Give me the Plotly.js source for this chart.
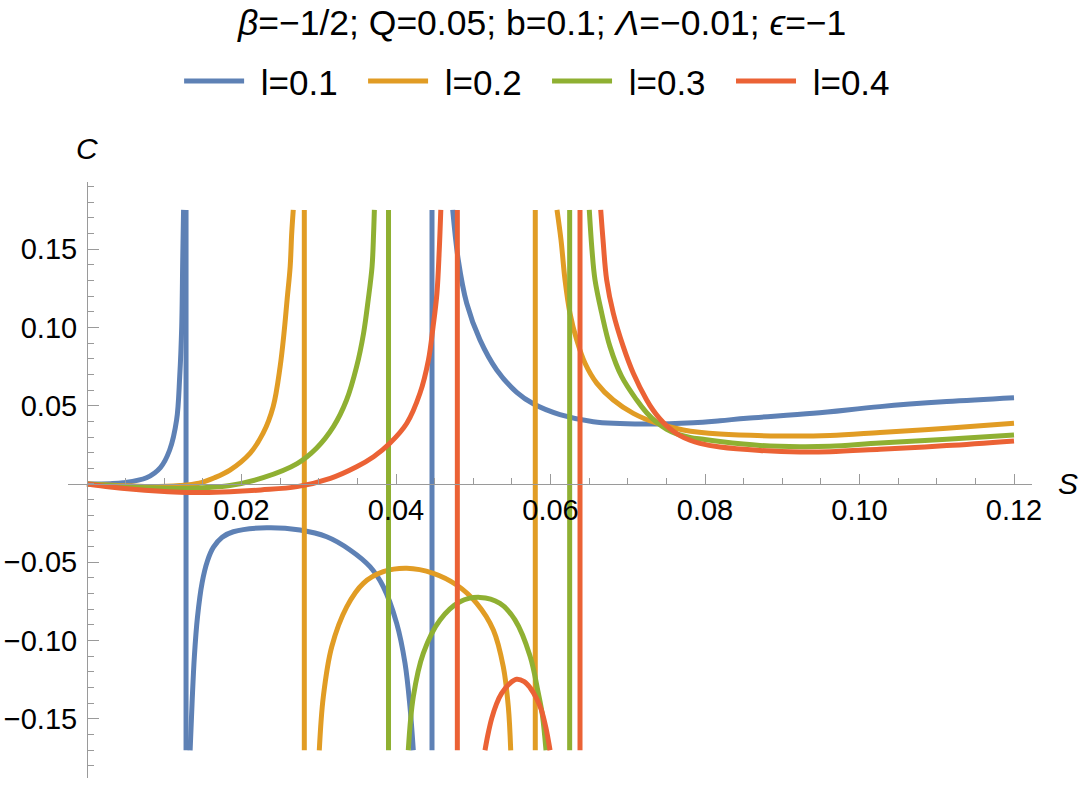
<!DOCTYPE html>
<html>
<head>
<meta charset="utf-8">
<script src="https://cdn.plot.ly/plotly-3.0.1.min.js"></script>
<style>
  html, body { margin: 0; padding: 0; background: #fff; }
  #chart { width: 1080px; height: 789px; }
</style>
</head>
<body>
<div id="chart"></div>
<script>
// values; null breaks the line at the poles
const s1 = [0, 0.003, 0.0047, 0.0077, 0.0095, 0.0107, 0.0116, 0.0120, 0.01226, 0.01239, 0.0125, null,
  0.01282, 0.01282, null,
  0.01335, 0.0136, 0.0139, 0.0143, 0.0149, 0.0156, 0.01635, 0.0175, 0.01894, 0.02326, 0.02757, 0.03103, 0.03405, 0.03663, 0.03836, 0.04009, 0.04117, 0.04181, 0.04224, null,
  0.04466, 0.04466, null,
  0.04734, 0.04806, 0.04915, 0.05087, 0.05304, 0.05563, 0.05777, 0.06123, 0.06554, 0.07201, 0.07848, 0.08194, 0.0854, 0.09402, 0.10265, 0.11129, 0.12];
const c1 = [0, 0.0002, 0.0008, 0.0040, 0.0105, 0.0217, 0.0409, 0.0685, 0.1004, 0.1430, 0.175, null,
  0.175, -0.170, null,
  -0.170, -0.140, -0.110, -0.085, -0.063, -0.049, -0.0405, -0.0340, -0.0305, -0.0279, -0.0294, -0.0337, -0.0421, -0.0528, -0.0656, -0.0890, -0.1145, -0.1422, -0.170, null,
  0.175, -0.170, null,
  0.175, 0.143, 0.1154, 0.0920, 0.0728, 0.0585, 0.0512, 0.0443, 0.0398, 0.0383, 0.0391, 0.0404, 0.0420, 0.0451, 0.0494, 0.0526, 0.0551];

const s2 = [0, 0.004, 0.008, 0.012, 0.0145, 0.0165, 0.0185, 0.0211, 0.0228, 0.0241, 0.0250, 0.0255, 0.0259, 0.0263, 0.0265, 0.0267, null,
  0.02813, 0.02813, null,
  0.03007, 0.03059, 0.03168, 0.03362, 0.03577, 0.03836, 0.04139, 0.04483, 0.04786, 0.05045, 0.0526, 0.05389, 0.05454, 0.05485, null,
  0.05803, 0.05803, null,
  0.06084, 0.06136, 0.06188, 0.06252, 0.06339, 0.06447, 0.06598, 0.06813, 0.07072, 0.07375, 0.07719, 0.08194, 0.08971, 0.09618, 0.10265, 0.11129, 0.12];
const c2 = [0, -0.0009, -0.0016, -0.0010, 0.0005, 0.0040, 0.0089, 0.0196, 0.0324, 0.0494, 0.0749, 0.0962, 0.1175, 0.1388, 0.1601, 0.175, null,
  0.175, -0.170, null,
  -0.170, -0.1358, -0.1039, -0.0784, -0.0634, -0.0560, -0.0538, -0.0570, -0.0645, -0.0762, -0.0932, -0.1167, -0.1422, -0.170, null,
  0.175, -0.170, null,
  0.175, 0.1558, 0.1303, 0.109, 0.0920, 0.0771, 0.0644, 0.0536, 0.0451, 0.0388, 0.0345, 0.0319, 0.0307, 0.0310, 0.0329, 0.0356, 0.0388];

const s3 = [0, 0.004, 0.008, 0.012, 0.0155, 0.0185, 0.0228, 0.0272, 0.0297, 0.0319, 0.0336, 0.0349, 0.0358, 0.0364, 0.0369, 0.0371, 0.0372, null,
  0.03903, 0.03903, null,
  0.04159, 0.04224, 0.04353, 0.0457, 0.04828, 0.05087, 0.05346, 0.0554, 0.05735, 0.05842, 0.05895, 0.05942, null,
  0.06248, 0.06248, null,
  0.06502, 0.06537, 0.06576, 0.06663, 0.0677, 0.06922, 0.07116, 0.07245, 0.07375, 0.07504, 0.07634, 0.07806, 0.07978, 0.08194, 0.08712, 0.0923, 0.09618, 0.10265, 0.11129, 0.12];
const c3 = [0, -0.0013, -0.0024, -0.0028, -0.0022, -0.0010, 0.0040, 0.0130, 0.0228, 0.0366, 0.0536, 0.0749, 0.0962, 0.1175, 0.1388, 0.1601, 0.175, null,
  0.175, -0.170, null,
  -0.170, -0.1358, -0.1081, -0.0868, -0.0752, -0.0724, -0.0762, -0.0868, -0.1098, -0.1335, -0.1475, -0.170, null,
  0.175, -0.170, null,
  0.175, 0.1494, 0.1303, 0.109, 0.0877, 0.0685, 0.0536, 0.0455, 0.0393, 0.0349, 0.0320, 0.0297, 0.0285, 0.0271, 0.0246, 0.0238, 0.0241, 0.0262, 0.0285, 0.0313];

const s4 = [0, 0.003, 0.006, 0.009, 0.012, 0.015, 0.0185, 0.0225, 0.0272, 0.0315, 0.0349, 0.0371, 0.0392, 0.0414, 0.0431, 0.0442, 0.0448, 0.0453, 0.0456, 0.0458, null,
  0.04794, 0.04794, null,
  0.05152, 0.0519, 0.0524, 0.0530, 0.05367, 0.0547, 0.0556, 0.0566, 0.05735, 0.0582, 0.0588, 0.0594, 0.05994, null,
  0.06382, 0.06382, null,
  0.0665, 0.0668, 0.06727, 0.06813, 0.06942, 0.07072, 0.07245, 0.07331, 0.07417, 0.07504, 0.0759, 0.07676, 0.07806, 0.07935, 0.08194, 0.08712, 0.0923, 0.09618, 0.10265, 0.11129, 0.12];
const c4 = [0, -0.0019, -0.0034, -0.0045, -0.0052, -0.0055, -0.0050, -0.0038, -0.0017, 0.0036, 0.0110, 0.0174, 0.0260, 0.0388, 0.0579, 0.0792, 0.1004, 0.1218, 0.1494, 0.175, null,
  0.175, -0.170, null,
  -0.170, -0.160, -0.1495, -0.1405, -0.1337, -0.1275, -0.1247, -0.1262, -0.1300, -0.1370, -0.1440, -0.1555, -0.170, null,
  0.175, -0.170, null,
  0.175, 0.1558, 0.1303, 0.109, 0.0877, 0.0707, 0.0536, 0.0469, 0.0415, 0.0371, 0.0337, 0.0309, 0.0279, 0.0259, 0.0236, 0.0214, 0.0204, 0.0206, 0.0222, 0.0245, 0.0275];

const names = ['l=0.1', 'l=0.2', 'l=0.3', 'l=0.4'];
const xTicks = [0.02, 0.04, 0.06, 0.08, 0.10, 0.12];
const xTickText = ['0.02', '0.04', '0.06', '0.08', '0.10', '0.12'];
const yTicks = [-0.15, -0.10, -0.05, 0.05, 0.10, 0.15];
const yTickText = ['\u22120.15', '\u22120.10', '\u22120.05', '0.05', '0.10', '0.15'];

const colors = ['#5e81b5', '#e19c24', '#8fb032', '#eb6235'];
const xs = [s1, s2, s3, s4];
const ys = [c1, c2, c3, c4];

const traces = xs.map((x, i) => ({
  x: x,
  y: ys[i],
  type: 'scatter',
  mode: 'lines',
  // padding spaces give the legend the spacing of the original
  name: '\u2004' + names[i] + '\u2002\u200a',
  connectgaps: false,
  line: { color: colors[i], width: 5, shape: 'spline', smoothing: 1 }
}));

const font = 'Liberation Sans, Arial, sans-serif';
const axisGray = '#9a9a9a';

const layout = {
  width: 1080,
  height: 789,
  margin: { l: 68, r: 48, t: 182, b: 11 },
  paper_bgcolor: '#ffffff',
  plot_bgcolor: '#ffffff',
  font: { family: font, size: 29, color: '#000000' },
  showlegend: true,
  title: {
    text: '<i>β</i>=\u22121/2; Q=0.05; b=0.1; <i>Λ</i>=\u22120.01; <i>ϵ</i>=\u22121',
    font: { family: font, size: 35.5, color: '#000000' },
    x: 0.502,
    xanchor: 'center',
    y: 0.972,
    yanchor: 'middle'
  },
  legend: {
    orientation: 'h',
    x: 0.497,
    xanchor: 'center',
    y: 1.169,
    yanchor: 'middle',
    font: { family: font, size: 35, color: '#000000' },
    itemwidth: 60,
    bgcolor: 'rgba(0,0,0,0)'
  },
  xaxis: {
    range: [-0.00246, 0.12233],
    anchor: 'free',
    position: 0.4933,
    showgrid: false,
    zeroline: false,
    showline: true,
    linecolor: axisGray,
    linewidth: 1,
    tickmode: 'array',
    tickvals: xTicks,
    ticktext: xTickText,
    ticks: 'inside',
    ticklen: 10,
    tickcolor: axisGray,
    tickfont: { family: font, size: 29, color: '#000000' },
    ticklabelstandoff: 0,
    minor: { tickmode: 'linear', tick0: 0, dtick: 0.005, ticks: 'inside', ticklen: 6, tickcolor: axisGray, showgrid: false }
  },
  yaxis: {
    range: [-0.1877, 0.1928],
    anchor: 'free',
    position: 0.0197,
    showgrid: false,
    zeroline: false,
    showline: true,
    linecolor: axisGray,
    linewidth: 1,
    tickmode: 'array',
    tickvals: yTicks,
    ticktext: yTickText,
    ticks: 'inside',
    ticklen: 11,
    tickcolor: axisGray,
    tickfont: { family: font, size: 29, color: '#000000' },
    ticklabelstandoff: 4,
    minor: { tickmode: 'linear', tick0: 0, dtick: 0.01, ticks: 'inside', ticklen: 6, tickcolor: axisGray, showgrid: false }
  },
  annotations: [
    { text: '<i>C</i>', xref: 'paper', yref: 'paper', x: 0.0197, y: 1.0554, xanchor: 'center', yanchor: 'middle', showarrow: false, font: { family: font, size: 30, color: '#000000' } },
    { text: '<i>S</i>', xref: 'paper', yref: 'paper', x: 1.0373, y: 0.4933, xanchor: 'center', yanchor: 'middle', showarrow: false, font: { family: font, size: 30, color: '#000000' } }
  ]
};

Plotly.newPlot('chart', traces, layout, { displayModeBar: false, staticPlot: true });
</script>
</body>
</html>
